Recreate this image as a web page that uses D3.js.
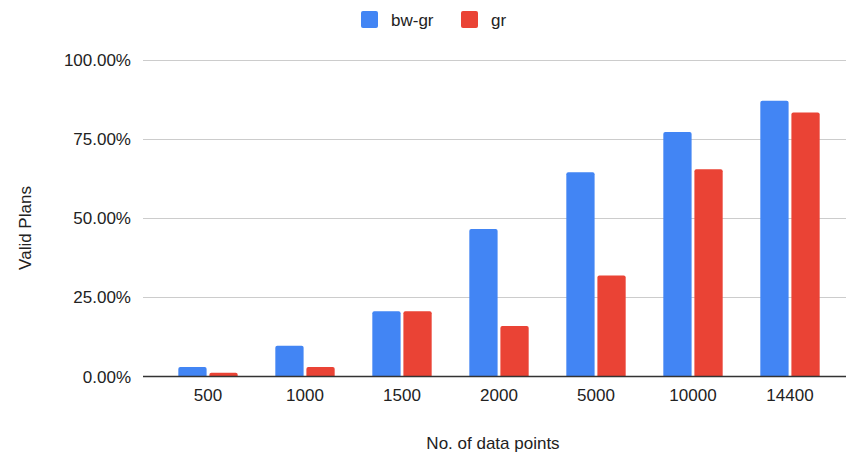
<!DOCTYPE html>
<html>
<head>
<meta charset="utf-8">
<script src="https://cdn.jsdelivr.net/npm/d3@7"></script>
<style>
  html, body { margin: 0; padding: 0; background: #fff; }
  svg { display: block; font-family: "Liberation Sans", Arial, sans-serif; }
</style>
</head>
<body>
<svg id="chart" width="846" height="457"></svg>
<script>
// Share of valid plans by number of data points, for two methods
const categories = ["500", "1000", "1500", "2000", "5000", "10000", "14400"];
const seriesNames = ["bw-gr", "gr"];
const bwGr = [3.0, 9.7, 20.6, 46.5, 64.4, 77.1, 87.0];
const gr = [1.2, 3.0, 20.6, 15.9, 31.9, 65.4, 83.3];
const yTicks = [0, 25, 50, 75, 100];
const colors = ["#4285F4", "#EA4335"];

const values = [bwGr, gr];
const svg = d3.select("#chart");

const y = d3.scaleLinear().domain([0, 100]).range([376.5, 59.5]);
const x0 = d3.scaleBand().domain(categories).range([159.5, 838.5])
  .paddingInner(0.388).paddingOuter(0.194);
const x1 = d3.scaleBand().domain(seriesNames).range([0, x0.bandwidth()])
  .paddingInner(0.09);

// horizontal gridlines
svg.append("g")
  .selectAll("line")
  .data(yTicks.filter(d => d > 0))
  .join("line")
  .attr("x1", 143).attr("x2", 846)
  .attr("y1", d => Math.round(y(d)) + 0.5).attr("y2", d => Math.round(y(d)) + 0.5)
  .attr("stroke", "#cccccc").attr("stroke-width", 1);

// y tick labels
svg.append("g")
  .selectAll("text")
  .data(yTicks)
  .join("text")
  .attr("x", 131)
  .attr("y", d => y(d) + 6)
  .attr("text-anchor", "end")
  .attr("font-size", 17)
  .attr("fill", "#222")
  .text(d => d.toFixed(2) + "%");

// bars with rounded top corners
function barPath(x, yTop, w, yBase, r) {
  const h = yBase - yTop;
  r = Math.min(r, h, w / 2);
  return `M${x},${yBase}V${yTop + r}Q${x},${yTop} ${x + r},${yTop}` +
         `H${x + w - r}Q${x + w},${yTop} ${x + w},${yTop + r}V${yBase}Z`;
}

const groups = svg.append("g")
  .selectAll("g")
  .data(categories)
  .join("g")
  .attr("transform", d => `translate(${x0(d)},0)`);

groups.selectAll("path")
  .data((d, i) => seriesNames.map((s, k) => ({ s, k, v: values[k][i] })))
  .join("path")
  .attr("d", d => barPath(x1(d.s), y(d.v), x1.bandwidth(), y(0), 2))
  .attr("fill", d => colors[d.k]);

// baseline
svg.append("line")
  .attr("x1", 143).attr("x2", 846)
  .attr("y1", y(0)).attr("y2", y(0))
  .attr("stroke", "#333").attr("stroke-width", 1.5);

// x category labels
svg.append("g")
  .selectAll("text")
  .data(categories)
  .join("text")
  .attr("x", d => x0(d) + x0.bandwidth() / 2)
  .attr("y", 401)
  .attr("text-anchor", "middle")
  .attr("font-size", 17)
  .attr("fill", "#222")
  .text(d => d);

// axis titles
svg.append("text")
  .attr("x", 493).attr("y", 449)
  .attr("text-anchor", "middle")
  .attr("font-size", 17)
  .attr("fill", "#222")
  .text("No. of data points");

svg.append("text")
  .attr("transform", "translate(31,228) rotate(-90)")
  .attr("text-anchor", "middle")
  .attr("font-size", 17)
  .attr("fill", "#222")
  .text("Valid Plans");

// legend
const legendX = [361, 461];
const legend = svg.append("g")
  .selectAll("g")
  .data(seriesNames)
  .join("g")
  .attr("transform", (d, i) => `translate(${legendX[i]},11)`);

legend.append("rect")
  .attr("width", 17).attr("height", 17).attr("rx", 2)
  .attr("fill", (d, i) => colors[i]);

legend.append("text")
  .attr("x", 30).attr("y", 15)
  .attr("font-size", 17)
  .attr("fill", "#222")
  .text(d => d);
</script>
</body>
</html>
